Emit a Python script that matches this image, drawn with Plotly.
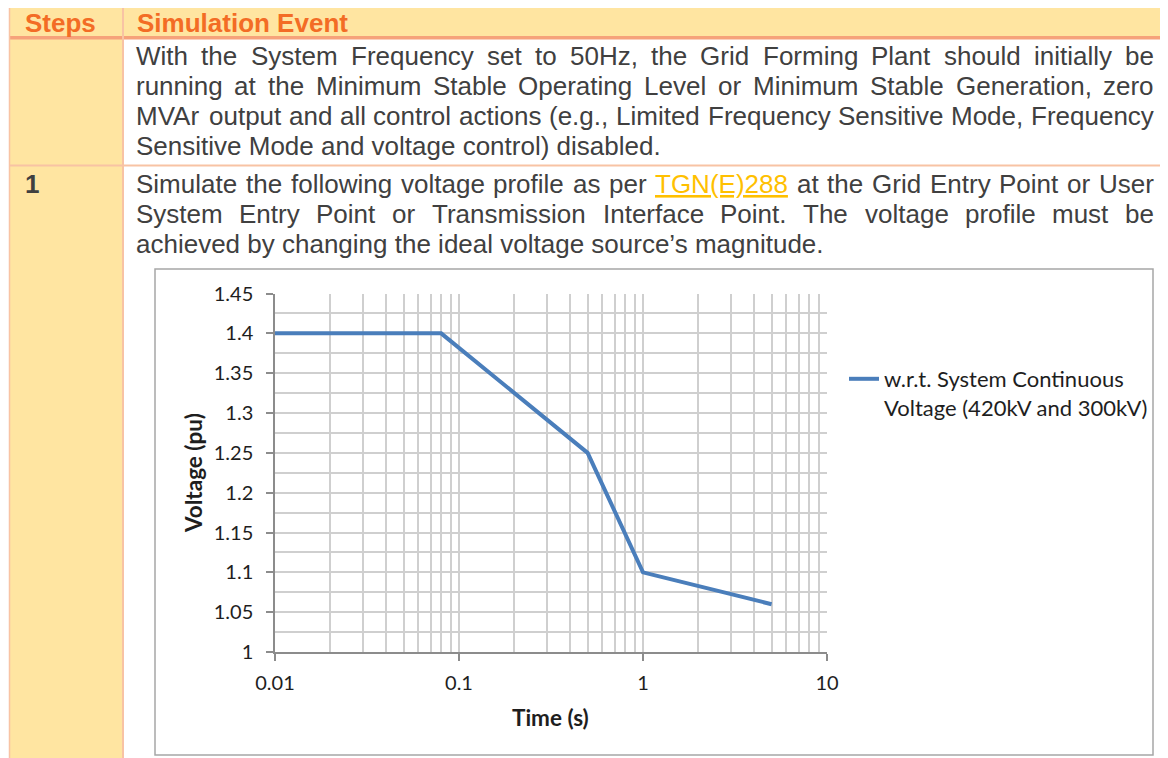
import plotly.graph_objects as go

# page window is 1168x758; the html body adds an 8px margin, so the figure is
# sized to the remaining area and all layout positions are given in window pixels
WIN_W, WIN_H = 1168, 758
OX, OY = 8, 8
W, H = WIN_W - OX, WIN_H - OY

# ---------------- data ----------------
time_s = [0.01, 0.08, 0.5, 1, 5]
voltage_pu = [1.4, 1.4, 1.25, 1.1, 1.06]
series_name = "w.r.t. System Continuous<br>Voltage (420kV and 300kV)"

x_tick_vals = [0.01, 0.1, 1, 10]
x_tick_text = ["0.01", "0.1", "1", "10"]
y_tick_vals = [1, 1.05, 1.1, 1.15, 1.2, 1.25, 1.3, 1.35, 1.4, 1.45]
y_tick_text = ["1", "1.05", "1.1", "1.15", "1.2", "1.25", "1.3", "1.35", "1.4", "1.45"]
x_title = "Time (s)"
y_title = "Voltage (pu)"

header_steps = "Steps"
header_event = "Simulation Event"
row1_lines = [
    ("With the System Frequency set to 50Hz, the Grid Forming Plant should initially be", True),
    ("running at the Minimum Stable Operating Level or Minimum Stable Generation, zero", True),
    ("MVAr output and all control actions (e.g., Limited Frequency Sensitive Mode, Frequency", True),
    ("Sensitive Mode and voltage control) disabled.", False),
]
row2_step = "1"
row2_lines = [
    ("Simulate the following voltage profile as per TGN(E)288 at the Grid Entry Point or User", True),
    ("System Entry Point or Transmission Interface Point. The voltage profile must be", True),
    ("achieved by changing the ideal voltage source\u2019s magnitude.", False),
]
link_words = {"TGN(E)288"}

# ---------------- styles ----------------
ORANGE = "#F36C25"
BODY = "#404040"
LINK = "#FFC000"
CELL = "#FFE5A1"
BORDER = "#F8C3A4"
BORDER_DARK = "#F6A27A"
BODY_FONT = "Liberation Sans, Arial, sans-serif"
CHART_FONT = "Lato, Carlito, Calibri, sans-serif"
BODY_SIZE = 26
CHART_TEXT = "#1E1E1E"

# Arial / Liberation Sans advance widths (1/1000 em)
AW = {' ': 278, '(': 333, ')': 333, ',': 278, '.': 278, '\u2019': 222, "'": 191, '-': 333}
AW.update({d: 556 for d in "0123456789"})
AW.update(dict(zip("ABCDEFGHIJKLMNOPQRSTUVWXYZ",
                   [667, 667, 722, 722, 667, 611, 778, 722, 278, 500, 667, 556, 833, 722, 778, 667,
                    778, 722, 667, 611, 722, 667, 944, 667, 667, 611])))
AW.update(dict(zip("abcdefghijklmnopqrstuvwxyz",
                   [556, 556, 500, 556, 556, 278, 556, 556, 222, 222, 500, 222, 833, 556, 556, 556,
                    556, 333, 500, 278, 556, 500, 722, 500, 500, 500])))


def tw(s, size):
    return sum(AW.get(c, 556) for c in s) * size / 1000.0


def px(x):
    return (x - OX) / W


def py(y):
    return 1 - (y - OY) / H


annotations = []


def text_ann(text, x, y, size, color, family=BODY_FONT, anchor="left", bold=False, under=False, angle=0):
    font = dict(family=family, size=size, color=color, weight=("bold" if bold else "normal"))
    if under:
        font["lineposition"] = "under"
    annotations.append(dict(text=text, x=px(x), y=py(y), xref="paper", yref="paper",
                            xanchor=anchor, yanchor="middle", showarrow=False,
                            borderpad=0, borderwidth=0, font=font, textangle=angle))


TEXT_L, TEXT_R = 136, 1154


def add_paragraph(lines, y0, step):
    for i, (line, justify) in enumerate(lines):
        y = y0 + i * step
        words = line.split(" ")
        if not justify:
            text_ann(line, TEXT_L, y, BODY_SIZE, BODY)
            continue
        widths = [tw(w, BODY_SIZE) for w in words]
        gap = (TEXT_R - TEXT_L - sum(widths)) / (len(words) - 1)
        x = TEXT_L
        for w, wd in zip(words, widths):
            is_link = w in link_words
            text_ann(w, x, y, BODY_SIZE, LINK if is_link else BODY, under=is_link)
            x += wd + gap


# header
text_ann(header_steps, 25, 23, BODY_SIZE, ORANGE, bold=True)
text_ann(header_event, 137, 23, BODY_SIZE, ORANGE, bold=True)
# rows
add_paragraph(row1_lines, 56.3, 30)
text_ann(row2_step, 25, 184.3, BODY_SIZE, BODY, bold=True)
add_paragraph(row2_lines, 184.3, 30)

# axis titles
text_ann(x_title, 550, 717, 22.5, CHART_TEXT, family=CHART_FONT, anchor="center", bold=True)
text_ann(y_title, 193, 473, 22.5, CHART_TEXT, family=CHART_FONT, anchor="center", bold=True, angle=-90)


# ---------------- table shapes ----------------
def rect(x0, x1, y0, y1, fill, line_color=None, lw=0):
    return dict(type="rect", xref="paper", yref="paper", x0=px(x0), x1=px(x1), y0=py(y0), y1=py(y1),
                fillcolor=fill, line=dict(color=line_color or "rgba(0,0,0,0)", width=lw), layer="below")


def hline(y, x0, x1, color, lw):
    return dict(type="line", xref="paper", yref="paper", x0=px(x0), x1=px(x1), y0=py(y), y1=py(y),
                line=dict(color=color, width=lw), layer="below")


def vline(x, y0, y1, color, lw):
    return dict(type="line", xref="paper", yref="paper", x0=px(x), x1=px(x), y0=py(y0), y1=py(y1),
                line=dict(color=color, width=lw), layer="below")


shapes = [
    rect(10, WIN_W, 5, 37, CELL),
    rect(10, 122, 39, WIN_H, CELL),
    rect(9, WIN_W, 36, 39.5, BORDER_DARK),
    vline(9.5, 4, WIN_H, BORDER, 1.5),
    vline(123, 4, WIN_H, BORDER, 2),
    hline(165.5, 9, WIN_W, BORDER, 2),
    rect(155, 1153, 269, 755, "white", "#A6A6A6", 1.5),
]

# ---------------- chart ----------------
fig = go.Figure()
fig.add_trace(go.Scatter(x=time_s, y=voltage_pu, mode="lines", name=series_name,
                         line=dict(color="#4A7EBB", width=4), showlegend=True, hoverinfo="skip"))

x_minor = [m * d for d in [0.01, 0.1, 1] for m in range(2, 10)]
GRID = "#CFCFCF"
AXIS = "#8C8C8C"

fig.update_layout(
    width=W, height=H, margin=dict(l=0, r=0, t=0, b=0, pad=0, autoexpand=False),
    paper_bgcolor="white", plot_bgcolor="rgba(0,0,0,0)",
    shapes=shapes, annotations=annotations,
    showlegend=True,
    legend=dict(x=px(844), y=py(358), xanchor="left", yanchor="top", valign="top",
                bgcolor="rgba(0,0,0,0)", borderwidth=0,
                font=dict(family=CHART_FONT, size=22, color=CHART_TEXT)),
    xaxis=dict(type="log", range=[-2, 1], domain=[px(275), px(827)], automargin=False,
               tickmode="array", tickvals=x_tick_vals, ticktext=x_tick_text,
               ticks="outside", ticklen=7, tickcolor=AXIS, tickwidth=1.5,
               showline=True, linecolor=AXIS, linewidth=1.5,
               showgrid=True, gridcolor=GRID, gridwidth=1.5,
               minor=dict(tickmode="array", tickvals=x_minor, showgrid=True, gridcolor=GRID, gridwidth=1.5, ticks=""),
               tickfont=dict(family=CHART_FONT, size=20, color=CHART_TEXT),
               ticklabelstandoff=5, zeroline=False, fixedrange=True),
    yaxis=dict(range=[1, 1.45], domain=[py(652), py(293.5)], automargin=False,
               tickmode="array", tickvals=y_tick_vals, ticktext=y_tick_text,
               ticks="outside", ticklen=7, tickcolor=AXIS, tickwidth=1.5,
               showline=True, linecolor=AXIS, linewidth=1.5,
               showgrid=True, gridcolor=GRID, gridwidth=1.5,
               minor=dict(tick0=1, dtick=0.025, showgrid=True, gridcolor=GRID, gridwidth=1.5, ticks=""),
               tickfont=dict(family=CHART_FONT, size=20, color=CHART_TEXT),
               ticklabelstandoff=9, zeroline=False, fixedrange=True),
)

fig.write_html("out.html")
